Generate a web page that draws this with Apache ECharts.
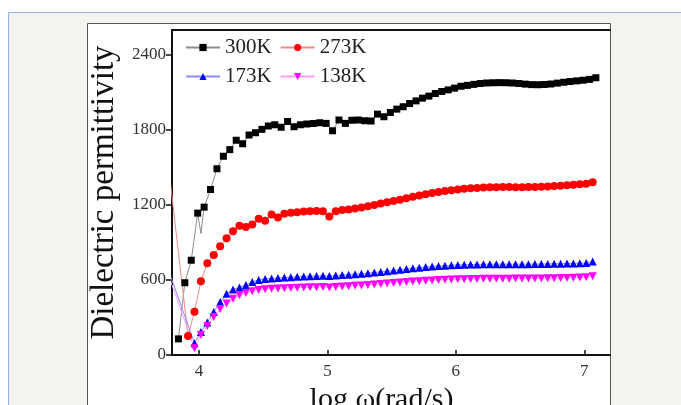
<!DOCTYPE html>
<html>
<head>
<meta charset="utf-8">
<script src="https://cdn.jsdelivr.net/npm/echarts@6/dist/echarts.min.js"></script>
<style>
  html, body { margin: 0; padding: 0; background: #ffffff; }
  #chart { width: 681px; height: 405px; }
</style>
</head>
<body>
<div id="chart"></div>
<script>
// log ω sample positions of the 300K sweep (4.015 is a repeated point of the sweep)
const x300 = [3.84, 3.89, 3.94, 3.99, 4.015, 4.04, 4.09, 4.14, 4.19, 4.24, 4.29, 4.34, 4.39, 4.44, 4.49,
  4.54, 4.59, 4.64, 4.69, 4.74, 4.79, 4.84, 4.89, 4.94, 4.99, 5.04, 5.09, 5.14, 5.19, 5.24, 5.29, 5.34,
  5.39, 5.44, 5.49, 5.54, 5.59, 5.64, 5.69, 5.74, 5.79, 5.84, 5.89, 5.94, 5.99, 6.04, 6.09, 6.14, 6.19,
  6.24, 6.29, 6.34, 6.39, 6.44, 6.49, 6.54, 6.59, 6.64, 6.69, 6.74, 6.79, 6.84, 6.89, 6.94, 6.99, 7.04, 7.09];

// log ω sample positions of the 273K, 173K and 138K sweeps
const xLow = [3.765, 3.815, 3.865, 3.915, 3.965, 4.015, 4.065, 4.115, 4.165, 4.215, 4.265, 4.315, 4.365,
  4.415, 4.465, 4.515, 4.565, 4.615, 4.665, 4.715, 4.765, 4.815, 4.865, 4.915, 4.965, 5.015, 5.065, 5.115,
  5.165, 5.215, 5.265, 5.315, 5.365, 5.415, 5.465, 5.515, 5.565, 5.615, 5.665, 5.715, 5.765, 5.815, 5.865,
  5.915, 5.965, 6.015, 6.065, 6.115, 6.165, 6.215, 6.265, 6.315, 6.365, 6.415, 6.465, 6.515, 6.565, 6.615,
  6.665, 6.715, 6.765, 6.815, 6.865, 6.915, 6.965, 7.015, 7.065];

const eps300 = [129, 578, 758, 1135, 972, 1183, 1324, 1490, 1590, 1643, 1718, 1690, 1760, 1778, 1805,
  1832, 1842, 1822, 1868, 1826, 1842, 1848, 1852, 1858, 1853, 1794, 1880, 1853, 1878, 1880, 1874, 1872,
  1927, 1906, 1940, 1967, 1986, 2012, 2033, 2055, 2071, 2092, 2108, 2121, 2135, 2150, 2157, 2165, 2172,
  2176, 2178, 2179, 2178, 2176, 2172, 2167, 2163, 2162, 2164, 2168, 2175, 2182, 2188, 2193, 2198, 2205, 2218];

const eps273 = [1490, null, null, 153, 347, 590, 735, 800, 870, 935, 990, 1035, 1025, 1045, 1090,
  1075, 1125, 1100, 1130, 1138, 1143, 1148, 1150, 1152, 1150, 1108, 1150, 1160, 1165, 1172, 1180, 1190,
  1200, 1212, 1222, 1232, 1243, 1255, 1266, 1277, 1287, 1296, 1305, 1313, 1319, 1325, 1330, 1334, 1337,
  1340, 1342, 1343, 1344, 1344, 1343, 1343, 1344, 1345, 1347, 1349, 1352, 1355, 1358, 1362, 1366, 1371, 1382];

const eps173 = [671, null, null, null, 95, 185, 260, 345, 425, 490, 525, 540, 560, 585, 600,
  608, 612, 616, 620, 623, 626, 628, 630, 632, 634, 632, 636, 640, 643, 647, 651, 655,
  660, 665, 670, 676, 682, 688, 694, 699, 704, 708, 712, 715, 718, 720, 722, 724, 725,
  726, 727, 727, 727, 727, 727, 727, 727, 728, 728, 729, 730, 731, 732, 733, 735, 737, 748];

const eps138 = [631, null, null, null, 55, 160, 232, 305, 368, 412, 450, 478, 496, 510, 520,
  526, 530, 532, 534, 536, 538, 540, 542, 543, 544, 541, 545, 548, 551, 554, 557, 560,
  564, 568, 572, 576, 580, 584, 588, 591, 594, 597, 600, 602, 604, 606, 607, 608, 609,
  610, 610, 611, 611, 611, 612, 612, 612, 613, 613, 614, 615, 616, 617, 618, 620, 622, 630];

const seriesNames = ['300K', '273K', '173K', '138K'];
const xTicks = [4, 5, 6, 7];
const yTicks = [0, 600, 1200, 1800, 2400];

const SERIF = '"Liberation Serif", "DejaVu Serif", serif';
const pairs = (xs, ys) => xs.map((x, i) => [x, ys[i]]);

const chart = echarts.init(document.getElementById('chart'), null, { renderer: 'canvas' });

const lineSeries = (name, xs, ys, symbol, size, fill, stroke, extra) => Object.assign({
  name: name,
  type: 'line',
  data: pairs(xs, ys),
  symbol: symbol,
  symbolSize: size,
  showAllSymbol: true,
  connectNulls: true,
  clip: true,
  animation: false,
  itemStyle: { color: fill, borderWidth: 0 },
  lineStyle: { color: stroke, width: 1 },
  emphasis: { disabled: true }
}, extra || {});

chart.setOption({
  backgroundColor: '#ffffff',
  animation: false,
  graphic: [
    {
      type: 'rect', silent: true, z: -10,
      shape: { x: 8.5, y: 12.5, width: 700, height: 420 },
      style: { fill: '#f3f3ef', stroke: '#8fb5e6', lineWidth: 1 }
    },
    {
      type: 'rect', silent: true, z: -9,
      shape: { x: 87.5, y: 23.5, width: 523, height: 420 },
      style: { fill: '#ffffff', stroke: '#555555', lineWidth: 1 }
    }
  ],
  grid: { left: 172, right: 71, top: 30, bottom: 50, containLabel: false, outerBoundsMode: 'none' },
  legend: {
    data: seriesNames,
    left: 185,
    top: 37,
    width: 186,
    padding: 0,
    itemGap: 8,
    itemWidth: 34,
    itemHeight: 9,
    textStyle: { fontFamily: SERIF, fontSize: 21, color: '#222' },
    selectedMode: false
  },
  xAxis: [
    {
      type: 'value',
      min: 3.79,
      max: 7.2,
      name: 'log ω(rad/s)',
      nameLocation: 'middle',
      nameGap: 23,
      nameTextStyle: { fontFamily: SERIF, fontSize: 30, color: '#111', padding: [0, 19, 0, 0] },
      axisLine: { show: true, onZero: false, lineStyle: { color: '#111', width: 2 } },
      axisTick: { show: true, inside: true, length: 5, customValues: xTicks, lineStyle: { color: '#111', width: 1.5 } },
      axisLabel: { customValues: xTicks, margin: 8, fontFamily: SERIF, fontSize: 17, color: '#333',
        formatter: (v) => String(v) },
      splitLine: { show: false }
    },
    {
      type: 'value',
      position: 'top',
      min: 3.79,
      max: 7.2,
      axisLine: { show: true, onZero: false, lineStyle: { color: '#111', width: 2 } },
      axisTick: { show: false },
      axisLabel: { show: false },
      splitLine: { show: false }
    }
  ],
  yAxis: {
    type: 'value',
    min: 0,
    max: 2600,
    name: 'Dielectric permittivity',
    nameLocation: 'middle',
    nameGap: 47,
    nameTextStyle: { fontFamily: SERIF, fontSize: 33, color: '#111' },
    axisLine: { show: true, lineStyle: { color: '#111', width: 2 } },
    axisTick: { show: true, inside: false, length: 6, customValues: yTicks, lineStyle: { color: '#111', width: 1.5 } },
    axisLabel: { customValues: yTicks, margin: 6, fontFamily: SERIF, fontSize: 17, color: '#333',
      formatter: (v) => String(v) },
    splitLine: { show: false }
  },
  series: [
    // the repeated 4.015 point is drawn as a line vertex without a marker
    lineSeries(seriesNames[0], x300, eps300, 'rect', (v, p) => (p && p.dataIndex === 4 ? 0 : 7), '#000000', '#8c8c8c'),
    lineSeries(seriesNames[1], xLow, eps273, 'circle', 8, '#ff0000', '#f08a8a'),
    lineSeries(seriesNames[2], xLow, eps173, 'triangle', 8, '#0000ff', '#8a8aff'),
    lineSeries(seriesNames[3], xLow, eps138, 'triangle', 8, '#ff00ff', '#ff9cff', { symbolRotate: 180 })
  ]
});
</script>
</body>
</html>
